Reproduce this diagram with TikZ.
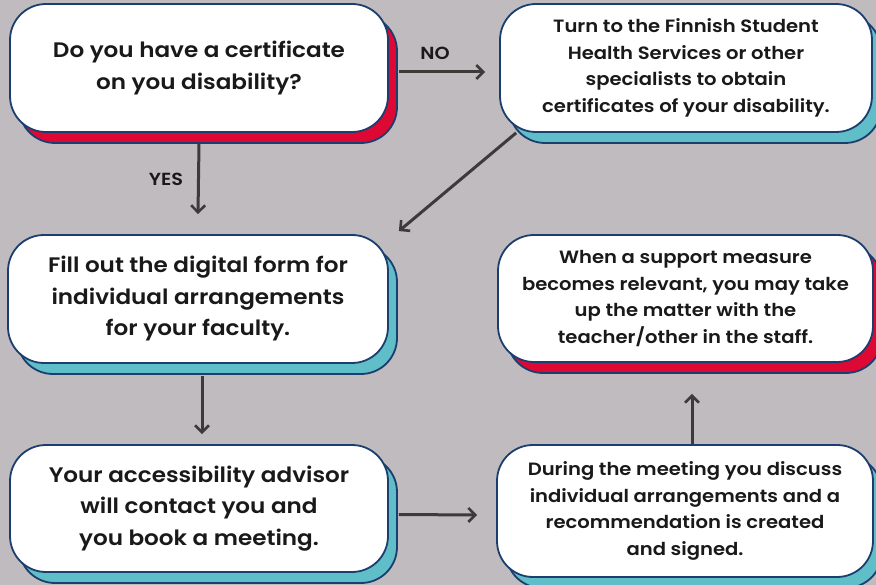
\documentclass[tikz,border=0pt]{standalone}
\usepackage{fontspec}
\setmainfont{Poppins}[BoldFont={Poppins SemiBold}, FakeStretch=1.1]
\usetikzlibrary{arrows.meta,shadows}
\definecolor{bg}{RGB}{192,187,190}
\definecolor{navy}{RGB}{28,62,110}
\definecolor{crim}{RGB}{222,8,52}
\definecolor{teal2}{RGB}{95,190,200}
\definecolor{arr}{RGB}{62,58,58}
\definecolor{txt}{RGB}{25,25,25}
\begin{document}
\begin{tikzpicture}[x=1pt,y=-1pt,
 card/.style={draw=navy, line width=1.8pt, fill=white, rounded corners=36pt, inner sep=0pt, align=center, text=txt},
 redsh/.style={copy shadow={shadow xshift=9pt, shadow yshift=-11pt, fill=crim, draw=navy, line width=1.8pt}},
 tealsh/.style={copy shadow={shadow xshift=9pt, shadow yshift=-11pt, fill=teal2, draw=navy, line width=1.8pt}},
 big/.style={font=\fontsize{21}{31.5}\selectfont\bfseries},
 small/.style={font=\fontsize{17.8}{26.7}\selectfont\bfseries},
 flow/.style={draw=arr, line width=3pt, -{Straight Barb[length=7pt,width=14pt,line width=2.6pt]}},
 lbl/.style={font=\fontsize{17.5}{20}\selectfont\bfseries, text=txt}]
\fill[bg] (0,0) rectangle (876,585);
\useasboundingbox (0,0) rectangle (876,585);
\node[card,redsh,big,minimum width=378pt,minimum height=128pt] (b1) at (199,68) {Do you have a certificate\\on you disability?};
\node[card,tealsh,small,minimum width=372pt,minimum height=128pt] (b2) at (686,68) {Turn to the Finnish Student\\Health Services or other\\specialists to obtain\\certificates of your disability.};
\node[card,tealsh,big,minimum width=380pt,minimum height=128pt] (b3) at (198,299) {Fill out the digital form for\\individual arrangements\\for your faculty.};
\node[card,redsh,small,minimum width=375pt,minimum height=127pt] (b4) at (685.5,298.5) {When a support measure\\becomes relevant, you may take\\up the matter with the\\teacher/other in the staff.};
\node[card,tealsh,big,minimum width=378pt,minimum height=127pt] (b5) at (199,508.5) {Your accessibility advisor\\will contact you and\\you book a meeting.};
\node[card,tealsh,small,minimum width=376pt,minimum height=132pt] (b6) at (685,511) {During the meeting you discuss\\individual arrangements and a\\recommendation is created\\and signed.};
\node[lbl] (no) at (435,53) {NO};
\node[lbl] (yes) at (166,179) {YES};
\draw[flow] ([xshift=10pt,yshift=-4pt]b1.east) -- ([xshift=-14pt,yshift=-4pt]b2.west);
\draw[flow] ([yshift=-11pt]b1.south) -- ([yshift=20pt]b3.north);
\draw[flow] ([xshift=17pt]b2.south west) -- ([xshift=10pt,yshift=3pt]b3.north east);
\draw[flow] ([xshift=4pt,yshift=-12pt]b3.south) -- ([xshift=3pt,yshift=10pt]b5.north);
\draw[flow] ([xshift=10pt,yshift=-6pt]b5.east) -- ([xshift=-19pt,yshift=-4pt]b6.west);
\draw[flow] ([xshift=7pt]b6.north) -- ([xshift=6.5pt,yshift=-31pt]b4.south);
\end{tikzpicture}
\end{document}
